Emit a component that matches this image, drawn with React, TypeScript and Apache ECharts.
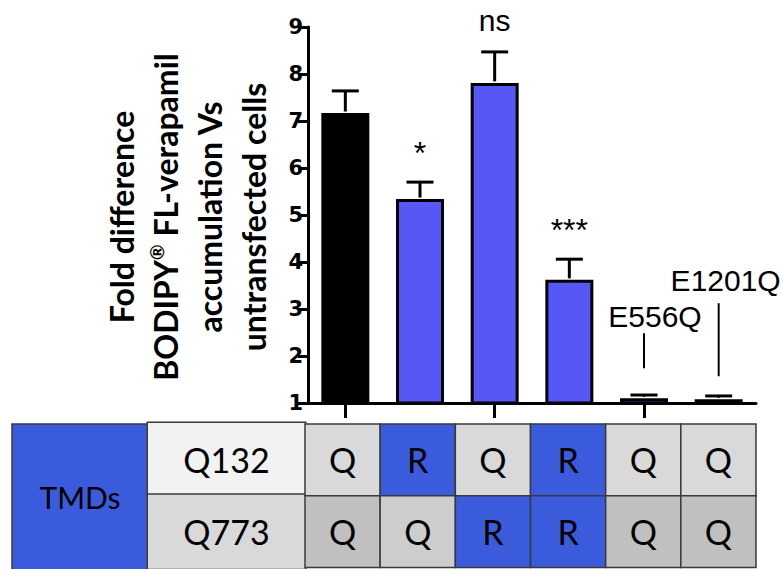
import React, { useEffect, useRef } from 'react';
import * as echarts from 'echarts';

// ---- data ----
const categories = ['WT', 'Q132R', 'Q773R', 'Q132R/Q773R', 'E556Q', 'E1201Q'];
const meanValues = [7.17, 5.34, 7.81, 3.62, 1.1, 1.08];
const errorTops = [7.64, 5.7, 8.47, 4.06, 1.17, 1.15];
const significance = ['', '*', 'ns', '***', '', ''];
const mutantLabels = ['', '', '', '', 'E556Q', 'E1201Q'];
const yTitleLines = ['Fold difference', 'BODIPY® FL-verapamil', 'accumulation Vs', 'untransfected cells'];
const tableGroup = 'TMDs';
const tableRows = ['Q132', 'Q773'];
const q132Residues = ['Q', 'R', 'Q', 'R', 'Q', 'Q'];
const q773Residues = ['Q', 'Q', 'R', 'R', 'Q', 'Q'];

// ---- styles ----
const barColors = ['#000000', '#5757F6', '#5757F6', '#5757F6', '#5757F6', '#5757F6'];
const BLUE = '#3A5CDC';
const rowHeaderColors = ['#F2F2F2', '#D9D9D9'];
const qColors = [
  ['#D9D9D9', '#D9D9D9', '#D9D9D9', '#D9D9D9', '#D9D9D9', '#D9D9D9'],
  ['#C0C0C0', '#CDCDCD', '#C0C0C0', '#C0C0C0', '#C0C0C0', '#C0C0C0'],
];
const CALIBRI = 'Lato, "Open Sans", sans-serif';
const ARIAL = '"Liberation Sans", Arial, sans-serif';

export default function App() {
  const ref = useRef<HTMLDivElement>(null);

  useEffect(() => {
    if (!ref.current) return;
    const chart = echarts.init(ref.current, null, { renderer: 'svg' });

    const tableData: any[] = [];
    [q132Residues, q773Residues].forEach((row, r) => {
      row.forEach((res, c) => tableData.push([c, r, res]));
    });

    const titleCenters = [121, 165, 209, 253];
    const headerStyle = (bg: string) => ({
      backgroundColor: bg,
      borderColor: '#3A3A3A',
      borderWidth: 1.5,
      width: 157,
      height: 74,
      lineHeight: 74,
      align: 'center',
      fontFamily: CALIBRI,
      fontSize: 34,
      color: '#000',
    });

    const option: any = {
      animation: false,
      backgroundColor: '#ffffff',
      grid: [
        { left: 308, right: 27, top: 27, bottom: 166 },
        { left: 305, right: 27, top: 424, height: 148 },
      ],
      xAxis: [
        {
          type: 'category',
          gridIndex: 0,
          data: categories,
          axisLine: { show: true, lineStyle: { color: '#000', width: 3 } },
          axisTick: { show: true, alignWithLabel: true, length: 15, lineStyle: { color: '#000', width: 3 } },
          axisLabel: { show: false },
          splitLine: { show: false },
        },
        {
          type: 'category',
          gridIndex: 1,
          data: categories,
          axisLine: { show: false },
          axisTick: { show: false },
          axisLabel: { show: false },
          splitLine: { show: false },
        },
      ],
      yAxis: [
        {
          type: 'value',
          gridIndex: 0,
          min: 1,
          max: 9,
          interval: 1,
          axisLine: { show: true, lineStyle: { color: '#000', width: 3 } },
          axisTick: { show: true, length: 10, lineStyle: { color: '#000', width: 3 } },
          splitLine: { show: false },
          axisLabel: {
            color: '#000',
            fontFamily: '"DejaVu Sans", sans-serif',
            fontWeight: 'bold',
            fontSize: 21,
            margin: 5,
          },
        },
        {
          type: 'category',
          gridIndex: 1,
          data: tableRows,
          inverse: true,
          axisLine: { show: false },
          axisTick: { show: false },
          splitLine: { show: false },
          axisLabel: {
            margin: 0,
            interval: 0,
            hideOverlap: false,
            formatter: (v: string, i: number) => `{${i === 0 ? 'a' : 'b'}|${v}}`,
            rich: {
              a: headerStyle(rowHeaderColors[0]),
              b: headerStyle(rowHeaderColors[1]),
            },
          },
        },
      ],
      graphic: [
        {
          type: 'rect',
          shape: { x: 12, y: 424, width: 136, height: 150 },
          style: { fill: BLUE, stroke: '#3A3A3A', lineWidth: 1.5 },
        },
        {
          type: 'text',
          x: 80,
          y: 497,
          style: {
            text: tableGroup,
            align: 'center',
            verticalAlign: 'middle',
            fontFamily: CALIBRI,
            fontSize: 30,
            fill: '#000',
          },
        },
        ...yTitleLines.map((line, i) => {
          const parts = line.split('®');
          const text = parts.length > 1 ? `{t|${parts[0]}}{s|®}{t|${parts[1]}}` : `{t|${line}}`;
          return {
            type: 'text',
            x: titleCenters[i],
            y: 217,
            rotation: Math.PI / 2,
            style: {
              text,
              align: 'center',
              verticalAlign: 'middle',
              fill: '#000',
              rich: {
                t: { fontFamily: CALIBRI, fontWeight: 'bold', fontSize: 32, fill: '#000', lineHeight: 36 },
                s: { fontFamily: CALIBRI, fontWeight: 'bold', fontSize: 19, fill: '#000', verticalAlign: 'top', lineHeight: 36 },
              },
            },
          };
        }),
      ],
      series: [
        {
          type: 'bar',
          xAxisIndex: 0,
          yAxisIndex: 0,
          barWidth: 48,
          data: meanValues.map((v, i) => ({ value: v, itemStyle: { color: barColors[i] } })),
          itemStyle: { borderColor: '#000', borderWidth: 3 },
          z: 2,
        },
        {
          type: 'custom',
          xAxisIndex: 0,
          yAxisIndex: 0,
          z: 3,
          data: categories.map((c, i) => [i, meanValues[i], errorTops[i]]),
          renderItem: (params: any, api: any) => {
            const i = api.value(0);
            const base = api.coord([i, api.value(1)]);
            const top = api.coord([i, api.value(2)]);
            const half = 13.5;
            return {
              type: 'group',
              children: [
                {
                  type: 'line',
                  shape: { x1: base[0], y1: base[1] - 1.5, x2: top[0], y2: top[1] },
                  style: { stroke: '#000', lineWidth: 3 },
                },
                {
                  type: 'line',
                  shape: { x1: top[0] - half, y1: top[1], x2: top[0] + half, y2: top[1] },
                  style: { stroke: '#000', lineWidth: 3 },
                },
              ],
            };
          },
        },
        {
          type: 'custom',
          xAxisIndex: 0,
          yAxisIndex: 0,
          z: 4,
          data: categories.map((c, i) => [i, errorTops[i], meanValues[i]]),
          renderItem: (params: any, api: any) => {
            const i = params.dataIndex;
            const top = api.coord([api.value(0), api.value(1)]);
            const barTop = api.coord([api.value(0), api.value(2)]);
            const children: any[] = [];
            const sig = significance[i];
            if (sig) {
              const isStar = sig.indexOf('*') >= 0;
              children.push({
                type: 'text',
                x: top[0],
                y: top[1] - (isStar ? 29 : 31),
                style: {
                  text: sig,
                  align: 'center',
                  verticalAlign: 'middle',
                  fontFamily: ARIAL,
                  fontSize: isStar ? 32 : 30,
                  fill: '#000',
                },
              });
            }
            const mut = mutantLabels[i];
            if (mut) {
              const cfg =
                i === 4
                  ? { l1: 30, l2: 65, t: 82, dx: 11 }
                  : { l1: 23, l2: 96, t: 119, dx: 7 };
              children.push({
                type: 'line',
                shape: { x1: barTop[0], y1: barTop[1] - cfg.l1, x2: barTop[0], y2: barTop[1] - cfg.l2 },
                style: { stroke: '#000', lineWidth: 2 },
              });
              children.push({
                type: 'text',
                x: barTop[0] + cfg.dx,
                y: barTop[1] - cfg.t,
                style: {
                  text: mut,
                  align: 'center',
                  verticalAlign: 'middle',
                  fontFamily: ARIAL,
                  fontSize: 30,
                  fill: '#000',
                },
              });
            }
            return { type: 'group', children };
          },
        },
        {
          type: 'custom',
          xAxisIndex: 1,
          yAxisIndex: 1,
          data: tableData,
          renderItem: (params: any, api: any) => {
            const c = api.value(0);
            const r = api.value(1);
            const res = tableData[params.dataIndex][2];
            const p = api.coord([c, r]);
            const s = api.size([1, 1]);
            const fill = res === 'R' ? BLUE : qColors[r][c];
            return {
              type: 'group',
              children: [
                {
                  type: 'rect',
                  shape: { x: p[0] - s[0] / 2, y: p[1] - s[1] / 2, width: s[0], height: s[1] },
                  style: { fill, stroke: '#3A3A3A', lineWidth: 1.5 },
                },
                {
                  type: 'text',
                  x: p[0],
                  y: p[1],
                  style: {
                    text: res,
                    align: 'center',
                    verticalAlign: 'middle',
                    fontFamily: CALIBRI,
                    fontSize: 34,
                    fill: '#000',
                  },
                },
              ],
            };
          },
        },
      ],
    };

    chart.setOption(option);
    return () => chart.dispose();
  }, []);

  return (
    <div
      ref={ref}
      style={{ position: 'absolute', left: 0, top: 0, width: 783, height: 569, background: '#fff' }}
    />
  );
}
